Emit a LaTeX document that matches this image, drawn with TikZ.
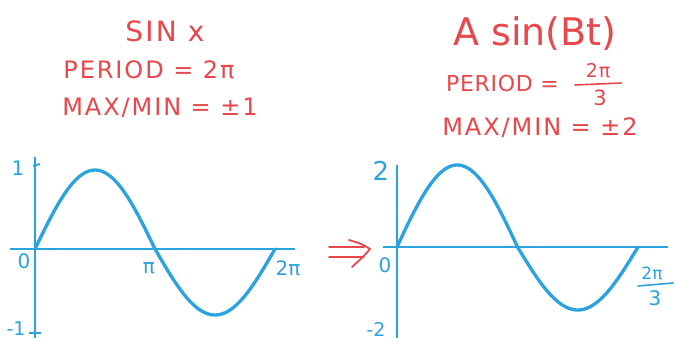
\documentclass[tikz,border=0pt]{standalone}
\usepackage{fontspec}
\setmainfont{DejaVu Sans}
\definecolor{hred}{HTML}{E8474B}
\definecolor{hblue}{HTML}{2BA3DE}
\begin{document}
\begin{tikzpicture}[x=1pt,y=-1pt,
  redtxt/.style={text=hred,font=\fontsize{24}{24}\selectfont\addfontfeature{LetterSpace=8},inner sep=0pt},
  bluetxt/.style={text=hblue,font=\fontsize{20}{20}\selectfont,inner sep=0pt},
  axisline/.style={draw=hblue,line width=1.8pt},
  fracbar/.style={line width=1.6pt,line cap=round},
  wave/.style={draw=hblue,line width=3.3pt,line cap=round,line join=round}]
\useasboundingbox (0,0) rectangle (676,343);
\fill[white] (0,0) rectangle (676,343);
% left titles
\node[redtxt,font=\fontsize{28}{28}\selectfont\addfontfeature{LetterSpace=8}] (t1) at (165,31) {SIN x};
\node[redtxt] (t2) at (149,70) {PERIOD = 2π};
\node[redtxt] (t3) at (160,108) {MAX/MIN = ±1};
% right titles
\node[redtxt,font=\fontsize{38}{38}\selectfont] (r1) at (535,34) {A sin(Bt)};
\node[redtxt,font=\fontsize{22}{22}\selectfont\addfontfeature{LetterSpace=3},anchor=west] (r2) at (446,83) {PERIOD =};
\node[redtxt,font=\fontsize{19}{19}\selectfont\addfontfeature{LetterSpace=5}] (r2n) at (598,71) {2π};
\node[redtxt,font=\fontsize{21}{21}\selectfont] (r2d) at (600,98) {3};
\draw[hred,fracbar] (575,85) -- (621,83);
\node[redtxt] (r3) at (540,128) {MAX/MIN = ±2};
% left axes
\draw[axisline] (35,157) -- (35,338);
\draw[axisline] (10,249) -- (295,249);
\draw[axisline] (33,166) -- (40,164);
\draw[axisline] (29,333) -- (41,333);
\draw[wave] plot[domain=0:180,samples=60] ({35+\x/360*240},{249-79*sin(\x)});
\draw[wave] plot[domain=180:360,samples=60] ({35+\x/360*240},{249-66*sin(\x)});
\node[bluetxt] (l1) at (18,168) {1};
\node[bluetxt,font=\fontsize{19}{19}\selectfont] (lm1) at (16,329) {-1};
\node[bluetxt] (l0) at (24,261) {0};
\node[bluetxt] (lpi) at (149,268) {π};
\node[bluetxt] (l2pi) at (288,268) {2π};
% arrow
\draw[hred,line width=1.8pt,line cap=round] (329,247) -- (364,247) (329,257) -- (364,257);
\draw[hred,line width=1.8pt,line cap=round,line join=round] (349,240) .. controls (362,244) .. (370,249) .. controls (364,256) .. (352,267);
% right axes
\draw[axisline] (397,165) -- (397,338);
\draw[axisline] (383,247) -- (668,247);
\draw[wave] plot[domain=0:180,samples=60] ({397+\x/360*241},{247-82*sin(\x)});
\draw[wave] plot[domain=180:360,samples=60] ({397+\x/360*241},{247-63*sin(\x)});
\node[bluetxt,font=\fontsize{26}{26}\selectfont] (r2l) at (381,171) {2};
\node[bluetxt] (r0) at (385,265) {0};
\node[bluetxt,font=\fontsize{19}{19}\selectfont] (rm2) at (376,329) {-2};
\node[bluetxt,font=\fontsize{17}{17}\selectfont] (r2pin) at (652,273) {2π};
\node[bluetxt] (r2pid) at (655,298) {3};
\draw[hblue,fracbar] (638,286) -- (673,283);
\end{tikzpicture}
\end{document}
